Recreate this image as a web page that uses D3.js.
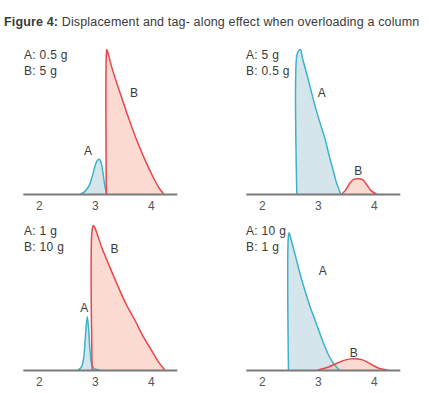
<!DOCTYPE html>
<html><head><meta charset="utf-8">
<script src="https://cdn.jsdelivr.net/npm/d3@7"></script>
<style>body{margin:0;background:#fff}svg{display:block}</style>
</head><body>
<script>
// ---- data ----
const title = ["Figure 4:", " Displacement and tag- along effect when overloading a column"];
const tickValues = [2, 3, 4];
const panelLoads = [
  ["A: 0.5 g", "B: 5 g"],
  ["A: 5 g", "B: 0.5 g"],
  ["A: 1 g", "B: 10 g"],
  ["A: 10 g", "B: 1 g"]
];
// curve points: [elution position, relative signal]
const seriesA = [
  [[2.75,0],[2.83,2],[2.9,6],[2.96,13],[3.01,20],[3.05,23.5],[3.08,24],[3.11,22],[3.14,16],[3.17,8],[3.2,2],[3.22,0]],
  [[2.625,0],[2.625,96],[2.655,99],[2.69,100],[2.72,95],[2.83,79],[2.95,61],[3.05,48],[3.13,38],[3.2,27],[3.27,17],[3.34,7],[3.41,0]],
  [[2.70,0],[2.76,2],[2.8,8],[2.83,22],[2.865,37],[2.89,28],[2.915,13],[2.945,4],[2.99,1],[3.09,0]],
  [[2.476,0],[2.476,93],[2.49,95],[2.51,92],[2.59,80.5],[2.68,67],[2.77,55],[2.86,44],[2.95,34.6],[3.04,25],[3.125,16.3],[3.21,9],[3.3,3.5],[3.39,0]]
];
const seriesB = [
  [[3.205,0],[3.205,96],[3.215,100],[3.24,97],[3.3,88],[3.45,70],[3.6,53],[3.75,37],[3.92,21.5],[4.05,11],[4.15,4],[4.23,0]],
  [[3.43,0],[3.5,3],[3.58,8],[3.65,10.3],[3.72,10.6],[3.8,10],[3.88,6],[3.96,2],[4.05,0]],
  [[2.952,0],[2.952,97],[2.975,100],[3.0,98.5],[3.06,92],[3.119,85.3],[3.27,71],[3.417,57.6],[3.56,45.5],[3.714,34.6],[3.86,23.5],[4.01,13.8],[4.13,6],[4.25,0]],
  [[3.0,0],[3.15,1.5],[3.3,4],[3.45,6.5],[3.58,7.7],[3.68,7.8],[3.8,7],[3.95,4],[4.1,1],[4.25,0]]
];
// curve name labels: [x, y] in data units
const labelA = [[2.88, 27], [3.07, 67], [2.81, 40], [3.09, 66]];
const labelB = [[3.7, 67], [3.72, 13], [3.35, 81], [3.64, 9]];

// ---- layout ----
const W = 429, H = 393;
const svg = d3.select("body").append("svg").attr("width", W).attr("height", H);
const font = "Liberation Sans, Arial, Helvetica, sans-serif";
const txt = "#3a3a3a";
const redLine = "#e8464c", redFill = "rgba(248,196,180,0.62)";
const blueLine = "#3cb3cb", blueFill = "rgba(176,208,220,0.55)";

const t = svg.append("text").attr("x", 4).attr("y", 26)
  .attr("font-family", font).attr("font-size", 12.5).attr("letter-spacing", 0.15).attr("fill", txt);
t.append("tspan").attr("font-weight", "bold").text(title[0]);
t.append("tspan").text(title[1]);

const panels = [
  {dx: 0, base: 194}, {dx: 223, base: 194},
  {dx: 0, base: 370}, {dx: 223, base: 370}
];

panels.forEach((p, i) => {
  const x = d3.scaleLinear().domain([1.714, 4.464]).range([22.8 + p.dx, 176.8 + p.dx]);
  const y = d3.scaleLinear().domain([0, 100]).range([p.base, p.base - 144.5]);
  const g = svg.append("g");

  const area = d3.area().x(d => x(d[0])).y0(p.base).y1(d => y(d[1])).curve(d3.curveCatmullRom.alpha(0.5));
  const line = d3.line().x(d => x(d[0])).y(d => y(d[1])).curve(d3.curveCatmullRom.alpha(0.5));

  g.append("path").attr("d", area(seriesA[i])).attr("fill", blueFill);
  g.append("path").attr("d", area(seriesB[i])).attr("fill", redFill);
  g.append("path").attr("d", line(seriesA[i])).attr("fill", "none").attr("stroke", blueLine).attr("stroke-width", 1.5);
  g.append("path").attr("d", line(seriesB[i])).attr("fill", "none").attr("stroke", redLine).attr("stroke-width", 1.5);

  // axis
  const ax = g.append("g").attr("transform", `translate(0,${p.base})`)
    .call(d3.axisBottom(x).tickValues(tickValues).tickSize(0).tickPadding(7).tickFormat(d3.format("d")));
  ax.select(".domain").attr("stroke", "#7a7a7a").attr("stroke-width", 2);
  ax.selectAll("text").attr("font-family", font).attr("font-size", 12).attr("fill", "#555");

  // loads
  panelLoads[i].forEach((s, k) => {
    g.append("text").attr("x", 24 + p.dx - (i % 2 ? 1 : 0)).attr("y", p.base - 135 + k * 15.6)
      .attr("font-family", font).attr("font-size", 12).attr("letter-spacing", 0.3).attr("fill", txt).text(s);
  });

  g.append("text").attr("x", x(labelA[i][0])).attr("y", y(labelA[i][1]))
    .attr("text-anchor", "middle").attr("font-family", font).attr("font-size", 12).attr("fill", txt).text("A");
  g.append("text").attr("x", x(labelB[i][0])).attr("y", y(labelB[i][1]))
    .attr("text-anchor", "middle").attr("font-family", font).attr("font-size", 12).attr("fill", txt).text("B");
});
</script>
</body></html>
